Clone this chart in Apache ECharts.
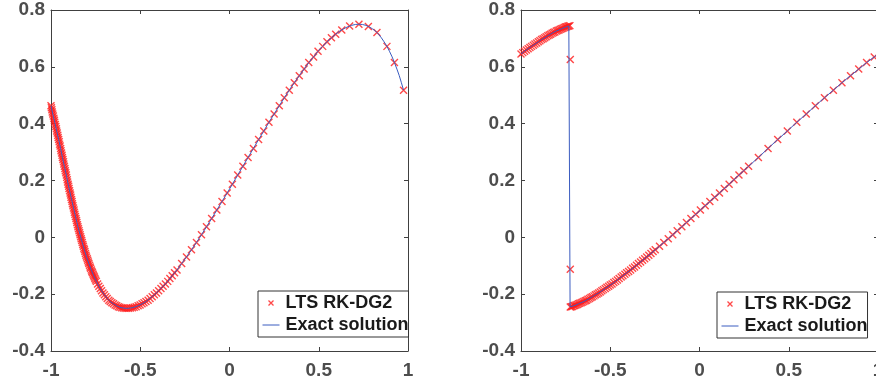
<!DOCTYPE html>
<html>
<head>
<meta charset="utf-8">
<script src="https://cdn.jsdelivr.net/npm/echarts@6/dist/echarts.min.js"></script>
<style>
html,body{margin:0;padding:0;background:#fff;}
#chart{width:876px;height:383px;}
</style>
</head>
<body>
<div id="chart"></div>
<script>
// ---- data ----
const seriesNames = ['LTS RK-DG2', 'Exact solution'];
const xTicks = [-1, -0.5, 0, 0.5, 1];
const yTicks = [-0.4, -0.2, 0, 0.2, 0.4, 0.6, 0.8];

// left panel: exact solution
const leftExact = [
[-1.000,0.463],[-0.990,0.434],[-0.979,0.405],[-0.968,0.374],[-0.957,0.344],[-0.946,0.313],[-0.936,0.281],[-0.925,0.250],[-0.914,0.219],[-0.904,0.187],
[-0.893,0.156],[-0.882,0.126],[-0.871,0.096],[-0.860,0.066],[-0.849,0.037],[-0.837,0.009],[-0.825,-0.018],[-0.813,-0.044],[-0.801,-0.069],[-0.788,-0.092],
[-0.774,-0.115],[-0.761,-0.135],[-0.746,-0.155],[-0.732,-0.172],[-0.717,-0.188],[-0.701,-0.202],[-0.685,-0.215],[-0.668,-0.226],[-0.650,-0.234],[-0.632,-0.241],
[-0.614,-0.246],[-0.595,-0.249],[-0.575,-0.250],[-0.555,-0.249],[-0.534,-0.246],[-0.512,-0.241],[-0.490,-0.234],[-0.468,-0.226],[-0.445,-0.215],[-0.421,-0.202],
[-0.397,-0.188],[-0.372,-0.172],[-0.346,-0.155],[-0.321,-0.135],[-0.294,-0.115],
[-0.268,-0.092],[-0.241,-0.069],[-0.213,-0.044],[-0.185,-0.018],[-0.157,0.009],[-0.129,0.037],[-0.100,0.066],[-0.071,0.096],[-0.042,0.126],[-0.013,0.156],
[0.016,0.187],[0.046,0.219],[0.075,0.250],[0.104,0.281],[0.134,0.313],[0.163,0.344],[0.192,0.374],[0.221,0.405],[0.250,0.434],[0.279,0.463],
[0.307,0.491],[0.335,0.518],[0.363,0.544],[0.391,0.569],[0.418,0.592],[0.444,0.615],[0.471,0.635],[0.496,0.655],[0.522,0.672],[0.546,0.688],
[0.571,0.702],[0.595,0.715],[0.618,0.726],[0.640,0.734],[0.662,0.741],[0.684,0.746],[0.705,0.749],[0.725,0.750],[0.745,0.749],[0.764,0.746],
[0.782,0.741],[0.800,0.734],[0.818,0.726],[0.835,0.715],[0.851,0.702],[0.866,0.688],[0.882,0.672],[0.896,0.655],[0.911,0.635],[0.924,0.615],
[0.938,0.592],[0.951,0.569],[0.963,0.544],[0.975,0.518]
];

// left panel: LTS RK-DG2 points (fine cells on the left, coarse on the right)
const leftFine = [
[-1.000,0.463],[-0.995,0.449],[-0.990,0.434],[-0.984,0.419],[-0.979,0.405],[-0.973,0.390],[-0.968,0.374],[-0.962,0.359],[-0.957,0.344],[-0.952,0.328],
[-0.946,0.313],[-0.941,0.297],[-0.936,0.281],[-0.930,0.266],[-0.925,0.250],[-0.920,0.234],[-0.914,0.219],[-0.909,0.203],[-0.904,0.187],[-0.899,0.172],
[-0.893,0.156],[-0.888,0.141],[-0.882,0.126],[-0.877,0.111],[-0.871,0.096],[-0.866,0.081],[-0.860,0.066],[-0.855,0.052],[-0.849,0.037],[-0.843,0.023],
[-0.837,0.009],[-0.831,-0.005],[-0.825,-0.018],[-0.819,-0.031],[-0.813,-0.044],[-0.807,-0.057],[-0.801,-0.069],[-0.794,-0.081],[-0.788,-0.092],[-0.781,-0.104],
[-0.774,-0.115],[-0.768,-0.125],[-0.761,-0.135],[-0.754,-0.145],[-0.746,-0.155],[-0.739,-0.164],[-0.732,-0.172],[-0.724,-0.180],[-0.717,-0.188],[-0.709,-0.196],
[-0.701,-0.202],[-0.693,-0.209],[-0.685,-0.215],[-0.676,-0.221],[-0.668,-0.226],[-0.659,-0.230],[-0.650,-0.234],[-0.641,-0.238],[-0.632,-0.241],[-0.623,-0.244],
[-0.614,-0.246],[-0.604,-0.248],[-0.595,-0.249],[-0.585,-0.250],[-0.575,-0.250],[-0.565,-0.250],[-0.555,-0.249],[-0.544,-0.248],[-0.534,-0.246],[-0.523,-0.244],
[-0.512,-0.241],[-0.501,-0.238],[-0.490,-0.234],[-0.479,-0.230],[-0.468,-0.226],[-0.456,-0.221],[-0.445,-0.215],[-0.433,-0.209],[-0.421,-0.202],[-0.409,-0.196],
[-0.397,-0.188],[-0.384,-0.180],[-0.372,-0.172],[-0.359,-0.164],[-0.346,-0.155],[-0.334,-0.145],[-0.321,-0.135],[-0.308,-0.125],[-0.294,-0.115]
];
// extra fine points on the steep left branch
const leftFineSteep = [
[-0.998,0.456],[-0.993,0.441],[-0.987,0.427],[-0.981,0.412],[-0.976,0.397],[-0.970,0.382],[-0.965,0.367],[-0.960,0.351],[-0.954,0.336],[-0.949,0.321],
[-0.944,0.305],[-0.938,0.289],[-0.933,0.274],[-0.928,0.258],[-0.922,0.242],[-0.917,0.227],[-0.912,0.211],[-0.907,0.195],[-0.901,0.180],[-0.896,0.164],
[-0.890,0.149],[-0.885,0.133],[-0.880,0.118],[-0.874,0.103],[-0.869,0.088],[-0.863,0.073],[-0.857,0.059],[-0.852,0.044],[-0.846,0.030],[-0.840,0.016],
[-0.834,0.002],[-0.828,-0.011],[-0.822,-0.025],[-0.816,-0.038],[-0.810,-0.050],[-0.804,-0.063],[-0.797,-0.075],[-0.791,-0.087],[-0.784,-0.098],[-0.778,-0.109],
[-0.771,-0.120],[-0.764,-0.130],[-0.757,-0.140],[-0.750,-0.150]
];
const leftCoarse = [
[-0.268,-0.092],[-0.241,-0.069],[-0.213,-0.044],[-0.185,-0.018],[-0.157,0.009],[-0.129,0.037],[-0.100,0.066],[-0.071,0.096],[-0.042,0.126],[-0.013,0.156],
[0.016,0.187],[0.046,0.219],[0.075,0.250],[0.104,0.281],[0.134,0.313],[0.163,0.344],[0.192,0.374],[0.221,0.405],[0.250,0.434],[0.279,0.463],
[0.307,0.491],[0.335,0.518],[0.363,0.544],[0.391,0.569],[0.418,0.592],[0.444,0.615],[0.471,0.635],[0.496,0.655],[0.522,0.672],[0.546,0.688],
[0.571,0.702],[0.595,0.715],[0.629,0.730],[0.673,0.744],[0.725,0.750],[0.778,0.742],[0.826,0.721],[0.882,0.672],[0.924,0.615],[0.975,0.518]
];

// right panel: exact solution (with the shock at x = -0.725)
const rightExact = [
[-1.000,0.645],[-0.980,0.655],[-0.960,0.664],[-0.941,0.672],[-0.922,0.680],[-0.903,0.688],[-0.885,0.696],[-0.867,0.702],[-0.850,0.709],[-0.834,0.715],
[-0.818,0.721],[-0.802,0.726],[-0.787,0.730],[-0.772,0.734],[-0.758,0.738],[-0.745,0.741],[-0.732,0.744],[-0.725,0.745],[-0.725,-0.245],
[-0.718,-0.244],[-0.705,-0.241],[-0.692,-0.238],[-0.678,-0.234],[-0.663,-0.230],[-0.648,-0.226],[-0.633,-0.221],[-0.616,-0.215],[-0.600,-0.209],[-0.583,-0.202],
[-0.565,-0.196],[-0.547,-0.188],[-0.528,-0.180],[-0.509,-0.172],[-0.490,-0.164],[-0.470,-0.155],[-0.450,-0.145],[-0.429,-0.135],[-0.408,-0.125],[-0.386,-0.115],
[-0.364,-0.104],[-0.342,-0.092],[-0.319,-0.081],[-0.296,-0.069],[-0.272,-0.057],[-0.248,-0.044],[-0.224,-0.031],[-0.200,-0.018],[-0.175,-0.005],[-0.150,0.009],
[-0.125,0.023],[-0.099,0.037],[-0.073,0.052],[-0.048,0.066],[-0.021,0.081],[0.005,0.096],[0.058,0.126],[0.112,0.156],[0.166,0.187],[0.221,0.219],
[0.275,0.250],[0.330,0.281],[0.384,0.313],[0.438,0.344],[0.492,0.374],[0.545,0.405],[0.598,0.434],[0.649,0.463],[0.700,0.491],[0.750,0.518],
[0.798,0.544],[0.846,0.569],[0.892,0.592],[0.936,0.615],[0.979,0.635],[1.000,0.645]
];

// right panel: LTS RK-DG2 points
const rightLeftState = [
[-1.000,0.645],[-0.990,0.650],[-0.980,0.655],[-0.970,0.659],[-0.960,0.664],[-0.950,0.668],[-0.941,0.672],[-0.931,0.676],[-0.922,0.680],[-0.912,0.684],
[-0.903,0.688],[-0.894,0.692],[-0.885,0.696],[-0.876,0.699],[-0.867,0.702],[-0.859,0.706],[-0.850,0.709],[-0.842,0.712],[-0.834,0.715],[-0.826,0.718],
[-0.818,0.721],[-0.810,0.723],[-0.802,0.726],[-0.794,0.728],[-0.787,0.730],[-0.780,0.732],[-0.772,0.734],[-0.765,0.736],[-0.758,0.738],[-0.751,0.740],
[-0.745,0.741],[-0.738,0.743],[-0.732,0.744],[-0.726,0.745]
];
const rightShockCells = [[-0.724,0.626],[-0.724,-0.112]];
const rightRightState = [
[-0.724,-0.245],[-0.718,-0.244],[-0.712,-0.243],[-0.705,-0.241],[-0.699,-0.240],[-0.692,-0.238],[-0.685,-0.236],[-0.678,-0.234],[-0.671,-0.232],[-0.663,-0.230],
[-0.656,-0.228],[-0.648,-0.226],[-0.640,-0.223],[-0.633,-0.221],[-0.625,-0.218],[-0.616,-0.215],[-0.608,-0.212],[-0.600,-0.209],[-0.591,-0.206],[-0.583,-0.202],
[-0.574,-0.199],[-0.565,-0.196],[-0.556,-0.192],[-0.547,-0.188],[-0.538,-0.184],[-0.528,-0.180],[-0.519,-0.176],[-0.509,-0.172],[-0.500,-0.168],[-0.490,-0.164],
[-0.480,-0.159],[-0.470,-0.155],[-0.460,-0.150],[-0.450,-0.145],[-0.439,-0.140],[-0.429,-0.135],[-0.418,-0.130],[-0.408,-0.125],[-0.397,-0.120],[-0.386,-0.115],
[-0.375,-0.109],[-0.364,-0.104],[-0.353,-0.098],[-0.342,-0.092],[-0.330,-0.087],[-0.319,-0.081],[-0.307,-0.075],[-0.296,-0.069],[-0.284,-0.063],[-0.272,-0.057],
[-0.260,-0.050],[-0.248,-0.044],[-0.224,-0.031],[-0.200,-0.018],[-0.175,-0.005],[-0.150,0.009],[-0.125,0.023],[-0.099,0.037],[-0.073,0.052],[-0.048,0.066],
[-0.021,0.081],[0.005,0.096],[0.032,0.111],[0.058,0.126],[0.085,0.141],[0.112,0.156],[0.139,0.172],[0.166,0.187],[0.193,0.203],[0.221,0.219],
[0.248,0.234],[0.275,0.250],[0.330,0.281],[0.384,0.313],[0.438,0.344],[0.492,0.374],[0.545,0.405],[0.598,0.434],[0.649,0.463],[0.700,0.491],
[0.750,0.518],[0.798,0.544],[0.846,0.569],[0.892,0.592],[0.936,0.615],[0.979,0.635]
];

// ---- chart ----
const FONT = '"Liberation Sans", Arial, Helvetica, sans-serif';
const AXIS_COLOR = '#404040';
const LABEL_COLOR = '#4d4d4d';
const MARK_COLOR = '#ff1a1a';
const LINE_COLOR = '#3b5cc0';
const XPATH = 'path://M0,0L10,10M10,0L0,10';
const XLEGEND = 'path://M-12,-9M22,19M0,0L10,10M10,0L0,10';
const LINELEGEND = 'path://M0,-7M17,7M0,0L17,0';

function mkX(grid, pos, showLabel) {
  return {
    type: 'value', gridIndex: grid, position: pos,
    min: xTicks[0], max: xTicks[xTicks.length - 1], interval: 0.5,
    axisLine: {show: true, onZero: false, lineStyle: {color: AXIS_COLOR, width: 1}},
    axisTick: {show: true, inside: true, length: 4, lineStyle: {color: AXIS_COLOR}},
    axisLabel: {show: showLabel, margin: 10, color: LABEL_COLOR, fontSize: 19, fontWeight: 'bold', fontFamily: FONT,
      formatter: v => String(Math.round(v * 10) / 10)},
    splitLine: {show: false}
  };
}
function mkY(grid, pos, showLabel) {
  return {
    type: 'value', gridIndex: grid, position: pos,
    min: yTicks[0], max: yTicks[yTicks.length - 1], interval: 0.2,
    axisLine: {show: true, onZero: false, lineStyle: {color: AXIS_COLOR, width: 1}},
    axisTick: {show: true, inside: true, length: 4, lineStyle: {color: AXIS_COLOR}},
    axisLabel: {show: showLabel, margin: 6, color: LABEL_COLOR, fontSize: 19, fontWeight: 'bold', fontFamily: FONT,
      formatter: v => String(Math.round(v * 10) / 10)},
    splitLine: {show: false}
  };
}
function mkLegend(left, top) {
  return {
    left: left, top: top, orient: 'vertical', selectedMode: false,
    backgroundColor: '#fff', borderColor: '#333', borderWidth: 1, borderRadius: 0,
    padding: [2, 0, 2, 2], itemGap: 2, itemWidth: 19, itemHeight: 14,
    textStyle: {fontFamily: FONT, fontSize: 18, fontWeight: 'bold', color: '#1a1a1a', lineHeight: 20},
    data: [
      {name: seriesNames[0], icon: XLEGEND, itemStyle: {color: 'none', borderColor: MARK_COLOR, borderWidth: 1.3}},
      {name: seriesNames[1], icon: LINELEGEND, itemStyle: {color: 'none', borderColor: LINE_COLOR, borderWidth: 1}}
    ]
  };
}
function markSeries(data, xi, yi) {
  return {
    name: seriesNames[0], type: 'scatter', xAxisIndex: xi, yAxisIndex: yi, data: data,
    symbol: XPATH, symbolSize: 7, clip: false, z: 2, silent: true,
    itemStyle: {color: 'none', borderColor: MARK_COLOR, borderWidth: 1.4}
  };
}
function lineSeries(data, xi, yi) {
  return {
    name: seriesNames[1], type: 'line', xAxisIndex: xi, yAxisIndex: yi, data: data,
    symbol: 'none', z: 3, silent: true, smooth: false,
    lineStyle: {color: LINE_COLOR, width: 1},
    itemStyle: {color: LINE_COLOR}
  };
}

const chart = echarts.init(document.getElementById('chart'), null, {renderer: 'canvas'});
chart.setOption({
  animation: false,
  backgroundColor: '#ffffff',
  textStyle: {fontFamily: FONT},
  grid: [
    {left: 51, top: 10, width: 357, height: 341, containLabel: false, outerBoundsMode: 'none'},
    {left: 521, top: 10, width: 357, height: 341, containLabel: false, outerBoundsMode: 'none'}
  ],
  xAxis: [mkX(0, 'bottom', true), mkX(0, 'top', false), mkX(1, 'bottom', true), mkX(1, 'top', false)],
  yAxis: [mkY(0, 'left', true), mkY(0, 'right', false), mkY(1, 'left', true), mkY(1, 'right', false)],
  legend: [mkLegend(258, 291), mkLegend(717, 292)],
  series: [
    markSeries(leftFine.concat(leftFineSteep, leftCoarse), 0, 0),
    lineSeries(leftExact, 0, 0),
    markSeries(rightLeftState.concat(rightShockCells, rightRightState), 2, 2),
    lineSeries(rightExact, 2, 2)
  ]
});
</script>
</body>
</html>
